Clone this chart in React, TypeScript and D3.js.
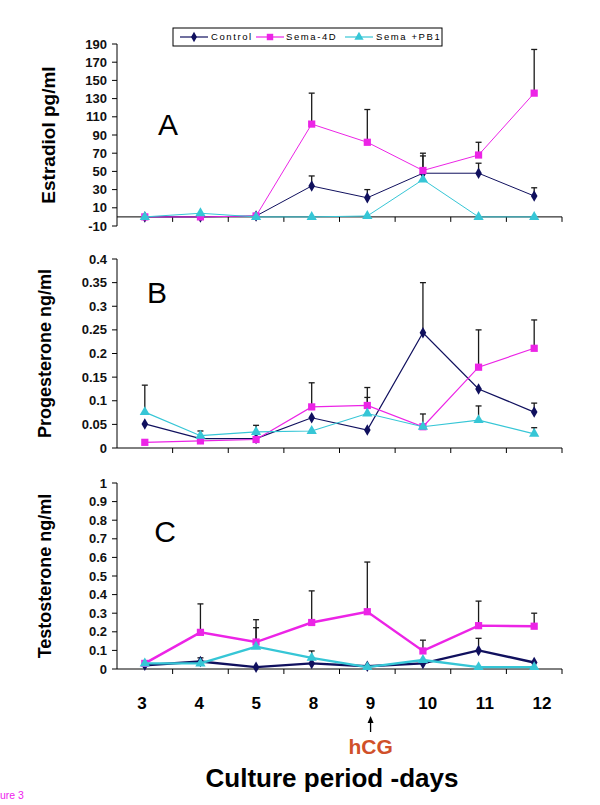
import React from "react";
import * as d3 from "d3";

// culture days (categorical)
const days = ["3", "4", "5", "8", "9", "10", "11", "12"];
const seriesNames = ["Control", "Sema-4D", "Sema +PB1"];

// A - Estradiol pg/ml
const estradiolControl = [0, 0, 1, 34, 21, 48, 48, 23];
const estradiolSema = [0, 0, 1, 102, 82, 51, 68, 136];
const estradiolPB1 = [0, 4, 0, 0, 1, 41, 0, 0];
const estradiolControlErr = [null, null, null, 45, 30, 70, 59, 32];
const estradiolSemaErr = [null, null, null, 136, 118, 67, 82, 184];
const estradiolPB1Err = [null, null, null, null, null, null, null, null];
const estradiolTicks = [-10, 10, 30, 50, 70, 90, 110, 130, 150, 170, 190];

// B - Progesterone ng/ml
const progControl = [0.051, 0.02, 0.02, 0.064, 0.038, 0.244, 0.125, 0.076];
const progSema = [0.012, 0.015, 0.018, 0.087, 0.09, 0.045, 0.171, 0.211];
const progPB1 = [0.076, 0.026, 0.034, 0.036, 0.073, 0.045, 0.059, 0.03];
const progControlErr = [null, 0.036, null, null, null, 0.35, null, 0.095];
const progSemaErr = [null, null, null, 0.138, 0.128, null, 0.25, 0.271];
const progPB1Err = [0.133, null, 0.048, null, 0.107, 0.072, 0.089, 0.043];
const progTicks = [0, 0.05, 0.1, 0.15, 0.2, 0.25, 0.3, 0.35, 0.4];

// C - Testosterone ng/ml
const testoControl = [0.02, 0.04, 0.01, 0.03, 0.015, 0.03, 0.1, 0.035];
const testoSema = [0.03, 0.197, 0.145, 0.25, 0.308, 0.097, 0.233, 0.23];
const testoPB1 = [0.03, 0.03, 0.12, 0.06, 0.01, 0.048, 0.01, 0.01];
const testoControlErr = [null, 0.06, null, null, null, null, 0.165, null];
const testoSemaErr = [null, 0.35, 0.265, 0.42, 0.575, 0.155, 0.365, 0.3];
const testoPB1Err = [null, null, 0.222, 0.097, null, null, null, null];
const testoTicks = [0, 0.1, 0.2, 0.3, 0.4, 0.5, 0.6, 0.7, 0.8, 0.9, 1];

const colors = ["#10105e", "#ec24e6", "#36c6d6"];
const symbols = [d3.symbolDiamond, d3.symbolSquare, d3.symbolTriangle];
const symbolSizes = [38, 52, 46];
const font = "Arial, 'Liberation Sans', sans-serif";

const panels = [
  {
    letter: "A",
    title: "Estradiol pg/ml",
    values: [estradiolControl, estradiolSema, estradiolPB1],
    errors: [estradiolControlErr, estradiolSemaErr, estradiolPB1Err],
    ticks: estradiolTicks,
    domain: [-10, 190],
    range: [226, 44],
    baseline: 0,
    lineWidth: 1,
    letterPos: [168, 135],
    titleX: 48,
    titleSize: 19,
  },
  {
    letter: "B",
    title: "Progesterone ng/ml",
    values: [progControl, progSema, progPB1],
    errors: [progControlErr, progSemaErr, progPB1Err],
    ticks: progTicks,
    domain: [0, 0.4],
    range: [448, 259],
    baseline: 0,
    lineWidth: 1.2,
    letterPos: [157, 303],
    titleX: 45,
    titleSize: 18,
  },
  {
    letter: "C",
    title: "Testosterone ng/ml",
    values: [testoControl, testoSema, testoPB1],
    errors: [testoControlErr, testoSemaErr, testoPB1Err],
    ticks: testoTicks,
    domain: [0, 1],
    range: [669, 483],
    baseline: 0,
    lineWidth: 2.4,
    letterPos: [165, 542],
    titleX: 45,
    titleSize: 18,
  },
];

const x = d3.scaleBand<string>().domain(days).range([117, 562]).padding(0);
const cx = (d: string) => (x(d) as number) + x.bandwidth() / 2;

function Panel({ p }: { p: any }) {
  const y = d3.scaleLinear().domain(p.domain).range(p.range);
  const y0 = y(p.baseline);
  const line = d3
    .line<number>()
    .x((d, i) => cx(days[i]))
    .y((d) => y(d));
  const bounds = days.map((d) => x(d) as number).concat([x.range()[1]]);
  return (
    <g>
      {/* y axis */}
      <line x1={117} x2={117} y1={p.range[0]} y2={p.range[1]} stroke="#000" strokeWidth={1} />
      {p.ticks.map((t: number) => (
        <g key={t}>
          <line x1={112} x2={117} y1={y(t)} y2={y(t)} stroke="#000" />
          <text
            x={107}
            y={y(t)}
            dy="0.35em"
            textAnchor="end"
            fontSize={13}
            fontWeight="bold"
            fontFamily={font}
            fill="#111"
          >
            {String(t)}
          </text>
        </g>
      ))}
      {/* x axis */}
      <line x1={117} x2={x.range()[1]} y1={y0} y2={y0} stroke="#000" />
      {bounds.slice(1).map((b, i) => (
        <line key={i} x1={b} x2={b} y1={y0} y2={y0 + 5} stroke="#000" />
      ))}
      {/* title + letter */}
      <text
        transform={`translate(${p.titleX},${(p.range[0] + p.range[1]) / 2}) rotate(-90)`}
        textAnchor="middle"
        dy="0.35em"
        fontSize={p.titleSize}
        fontWeight="bold"
        fontFamily={font}
        fill="#000"
      >
        {p.title}
      </text>
      <text
        x={p.letterPos[0]}
        y={p.letterPos[1]}
        textAnchor="middle"
        fontSize={30}
        fontFamily={font}
        fill="#000"
      >
        {p.letter}
      </text>
      {/* error bars */}
      {p.errors.map((errs: (number | null)[], s: number) =>
        errs.map((e, i) =>
          e == null ? null : (
            <g key={`e${s}-${i}`} stroke="#1a1a1a" strokeWidth={1.3}>
              <line x1={cx(days[i])} x2={cx(days[i])} y1={y(p.values[s][i])} y2={y(e)} />
              <line x1={cx(days[i]) - 3} x2={cx(days[i]) + 3} y1={y(e)} y2={y(e)} />
            </g>
          )
        )
      )}
      {/* series */}
      {p.values.map((vals: number[], s: number) => (
        <g key={`s${s}`}>
          <path d={line(vals) as string} fill="none" stroke={colors[s]} strokeWidth={p.lineWidth} />
          {vals.map((v, i) => (
            <path
              key={i}
              transform={`translate(${cx(days[i])},${y(v)})`}
              d={d3.symbol(symbols[s], symbolSizes[s])() as string}
              fill={colors[s]}
            />
          ))}
        </g>
      ))}
    </g>
  );
}

function Legend() {
  const items = [
    { x0: 180, tx: 211 },
    { x0: 256, tx: 286 },
    { x0: 345, tx: 376 },
  ];
  return (
    <g>
      <rect x={173} y={28} width={269} height={18} fill="#fff" stroke="#000" strokeWidth={1} />
      {seriesNames.map((name, s) => (
        <g key={name}>
          <line x1={items[s].x0} x2={items[s].x0 + 28} y1={37} y2={37} stroke={colors[s]} strokeWidth={1.2} />
          <path
            transform={`translate(${items[s].x0 + 14},37)`}
            d={d3.symbol(symbols[s], symbolSizes[s] * 0.8)() as string}
            fill={colors[s]}
          />
          <text
            x={items[s].tx}
            y={37}
            dy="0.35em"
            fontSize={9.5}
            letterSpacing={1.6}
            fontFamily={font}
            fill="#000"
          >
            {name}
          </text>
        </g>
      ))}
    </g>
  );
}

export default function App() {
  const labelX = d3.scalePoint<string>().domain(days).range([142, 542]);
  const hcgX = labelX("9") as number;
  return (
    <svg width={600} height={805} style={{ position: "absolute", left: 0, top: 0, background: "#fff" }}>
      <rect width={600} height={805} fill="#fff" />
      {panels.map((p) => (
        <Panel key={p.letter} p={p} />
      ))}
      <Legend />
      {days.map((d) => (
        <text
          key={d}
          x={labelX(d)}
          y={703}
          dy="0.35em"
          textAnchor="middle"
          fontSize={17}
          fontWeight="bold"
          fontFamily={font}
          fill="#000"
        >
          {d}
        </text>
      ))}
      <line x1={hcgX} x2={hcgX} y1={732} y2={721} stroke="#000" strokeWidth={1.3} />
      <path d={`M${hcgX - 3},${723} L${hcgX},${716} L${hcgX + 3},${723} Z`} fill="#000" />
      <text
        x={hcgX}
        y={747}
        dy="0.35em"
        textAnchor="middle"
        fontSize={21}
        fontWeight="bold"
        fontFamily={font}
        fill="#d0502a"
      >
        hCG
      </text>
      <text
        x={332}
        y={778}
        dy="0.35em"
        textAnchor="middle"
        fontSize={26}
        fontWeight="bold"
        fontFamily={font}
        fill="#000"
      >
        Culture period -days
      </text>
      <text x={0} y={795} dy="0.35em" fontSize={10.5} fontFamily={font} fill="#ee22ee">
        ure 3
      </text>
    </svg>
  );
}
